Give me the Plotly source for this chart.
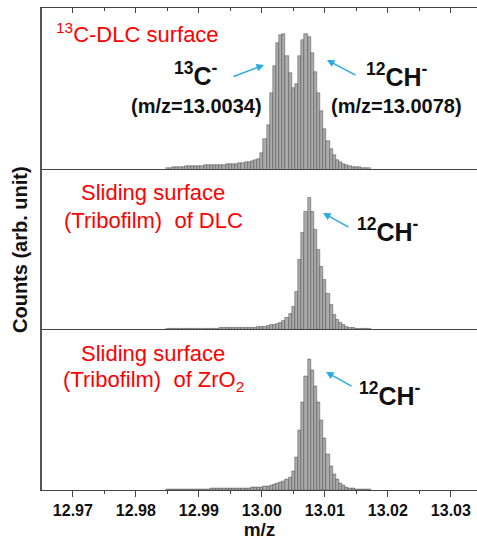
import plotly.graph_objects as go
from plotly.subplots import make_subplots

# bin centres (m/z), step 0.0005 from 12.9850
mz_start = 12.985
mz_step = 0.0005

counts_dlc = [1, 1, 1.2, 1.5, 2, 2, 2.2, 2.4, 2.6, 2.8,
              3, 3, 3.2, 3.3, 3.4, 3.5, 3.6, 3.8, 4, 4.2,
              4.5, 4.8, 5, 5.5, 6, 6.5, 7, 8, 8.5, 10,
              16, 30, 43, 75, 102, 125, 133, 134, 112, 95,
              80, 84, 112, 128, 134, 131, 115, 96, 75, 57,
              40, 28, 20, 14, 9, 7, 5, 3.5, 2.5, 2,
              1.5, 1.2, 1, 0.8, 0.6]

counts_tribo_dlc = [0.5, 0.5, 0.6, 0.6, 0.7, 0.7, 0.8, 0.8, 0.9, 0.9,
                    1, 1, 1, 1, 1.1, 1.1, 1.1, 1.2, 1.2, 1.2,
                    1.2, 1.3, 1.3, 1.4, 1.4, 1.5, 1.6, 1.8, 2, 2.2,
                    2.5, 3, 3.5, 4.2, 5, 6, 7, 9, 12, 16,
                    23, 38, 70, 97, 118, 132, 118, 100, 80, 63,
                    50, 36, 25, 15, 10, 7, 5, 3, 2, 1.2,
                    0.8, 0.6, 0.5, 0.4, 0.3]

counts_tribo_zro2 = [0.5, 0.5, 0.6, 0.6, 0.7, 0.7, 0.8, 0.8, 0.9, 0.9,
                     1, 1, 1.1, 1.1, 1.2, 1.2, 1.3, 1.3, 1.4, 1.4,
                     1.5, 1.5, 1.6, 1.7, 1.8, 1.9, 2, 2.2, 2.4, 2.7,
                     3, 3.5, 4, 5, 5.5, 6.5, 7.5, 9, 11, 13,
                     19, 33, 60, 88, 114, 131, 120, 104, 88, 70,
                     52, 36, 24, 16, 11, 7, 4.5, 3, 2, 1.3,
                     0.8, 0.6, 0.5, 0.4, 0.3]

mz = [round(mz_start + i * mz_step, 4) for i in range(len(counts_dlc))]

x_ticks = [12.97, 12.98, 12.99, 13.00, 13.01, 13.02, 13.03]
x_tick_labels = ["12.97", "12.98", "12.99", "13.00", "13.01", "13.02", "13.03"]

FONT = "Arial, Liberation Sans, sans-serif"
W, H = 477, 541
L, R, T, B = 42, 0, 8, 51

fig = make_subplots(rows=3, cols=1, shared_xaxes=True, vertical_spacing=0)

for row, ys in enumerate([counts_dlc, counts_tribo_dlc, counts_tribo_zro2], start=1):
    fig.add_trace(go.Bar(x=mz, y=ys, width=mz_step,
                         marker=dict(color="#acacac", line=dict(color="#3a3a3a", width=0.45)),
                         showlegend=False), row=row, col=1)

xr = [12.9651, 13.03415]
common_x = dict(range=xr, tickvals=x_ticks, ticktext=[f"<b>{t}</b>" for t in x_tick_labels],
                showgrid=False, zeroline=False, showline=True, linecolor="#444",
                linewidth=1.3, minor=dict(dtick=0.005, tick0=12.965, ticklen=3, tickcolor="#444"))
fig.update_xaxes(**common_x)
fig.update_xaxes(row=1, col=1, side="top", mirror=True, ticks="inside", ticklen=5,
                 tickcolor="#444", showticklabels=False,
                 minor=dict(dtick=0.005, tick0=12.965, ticklen=3, ticks="inside", tickcolor="#444"))
fig.update_xaxes(row=2, col=1, ticks="", showticklabels=False, minor=dict(ticks=""))
fig.update_xaxes(row=3, col=1, ticks="outside", ticklen=6, tickcolor="#444", tickwidth=1.3,
                 showticklabels=True,
                 tickfont=dict(family=FONT, size=16, color="#111"),
                 minor=dict(dtick=0.005, tick0=12.965, ticklen=3, ticks="outside", tickcolor="#444"),
                 title=dict(text="<b>m/z</b>", font=dict(family=FONT, size=19, color="#111"), standoff=0))

fig.update_yaxes(showgrid=False, zeroline=False, showticklabels=False, ticks="",
                 showline=True, linecolor="#555", linewidth=1.5)
fig.update_yaxes(row=1, col=1, range=[0, 160])
fig.update_yaxes(row=2, col=1, range=[0, 161])
fig.update_yaxes(row=3, col=1, range=[0, 161])


def px(x):
    return (x - L) / (W - L - R)


def py(y):
    return (H - B - y) / (H - T - B)


ann = []
red = "#ff0000"
blue = "#29abe2"


def text(x, y, s, size, color, bold=False):
    ann.append(dict(x=px(x), y=py(y), xref="paper", yref="paper", text=(f"<b>{s}</b>" if bold else s),
                    showarrow=False, font=dict(family=FONT, size=size, color=color),
                    xanchor="center", yanchor="middle"))


def arrow(x0, y0, x1, y1):
    ann.append(dict(x=px(x1), y=py(y1), xref="paper", yref="paper", ax=x0 - x1, ay=y0 - y1,
                    axref="pixel", ayref="pixel", text="", showarrow=True, arrowhead=2,
                    arrowsize=1, arrowwidth=1.5, arrowcolor=blue, standoff=0))


# panel 1
text(137, 33, "<sup>13</sup>C-DLC surface", 22, red)
text(196, 74, "<sup>13</sup>C<sup>-</sup>", 25, "#111", bold=True)
text(196, 106, "(m/z=13.0034)", 20, "#111", bold=True)
text(397, 75, "<sup>12</sup>CH<sup>-</sup>", 25, "#111", bold=True)
text(396, 106, "(m/z=13.0078)", 20, "#111", bold=True)
arrow(232, 77, 264, 65)
arrow(357, 76, 327, 60)

# panel 2
text(153, 193, "Sliding surface", 22, red)
text(153, 220, "(Tribofilm)  of DLC", 22, red)
text(388, 230, "<sup>12</sup>CH<sup>-</sup>", 25, "#111", bold=True)
arrow(350, 228, 323, 213)

# panel 3
text(153, 353, "Sliding surface", 22, red)
text(153, 381, "(Tribofilm)  of ZrO<sub>2</sub>", 22, red)
text(390, 394, "<sup>12</sup>CH<sup>-</sup>", 25, "#111", bold=True)
arrow(353, 387, 326, 372)

# y title
ann.append(dict(x=px(20), y=py(250), xref="paper", yref="paper", text="<b>Counts (arb. unit)</b>",
                textangle=-90, showarrow=False, font=dict(family=FONT, size=20, color="#111"),
                xanchor="center", yanchor="middle"))

fig.update_layout(width=W, height=H, margin=dict(l=L, r=R, t=T, b=B),
                  plot_bgcolor="white", paper_bgcolor="white", bargap=0,
                  annotations=ann, font=dict(family=FONT))

fig.write_html("out.html")
